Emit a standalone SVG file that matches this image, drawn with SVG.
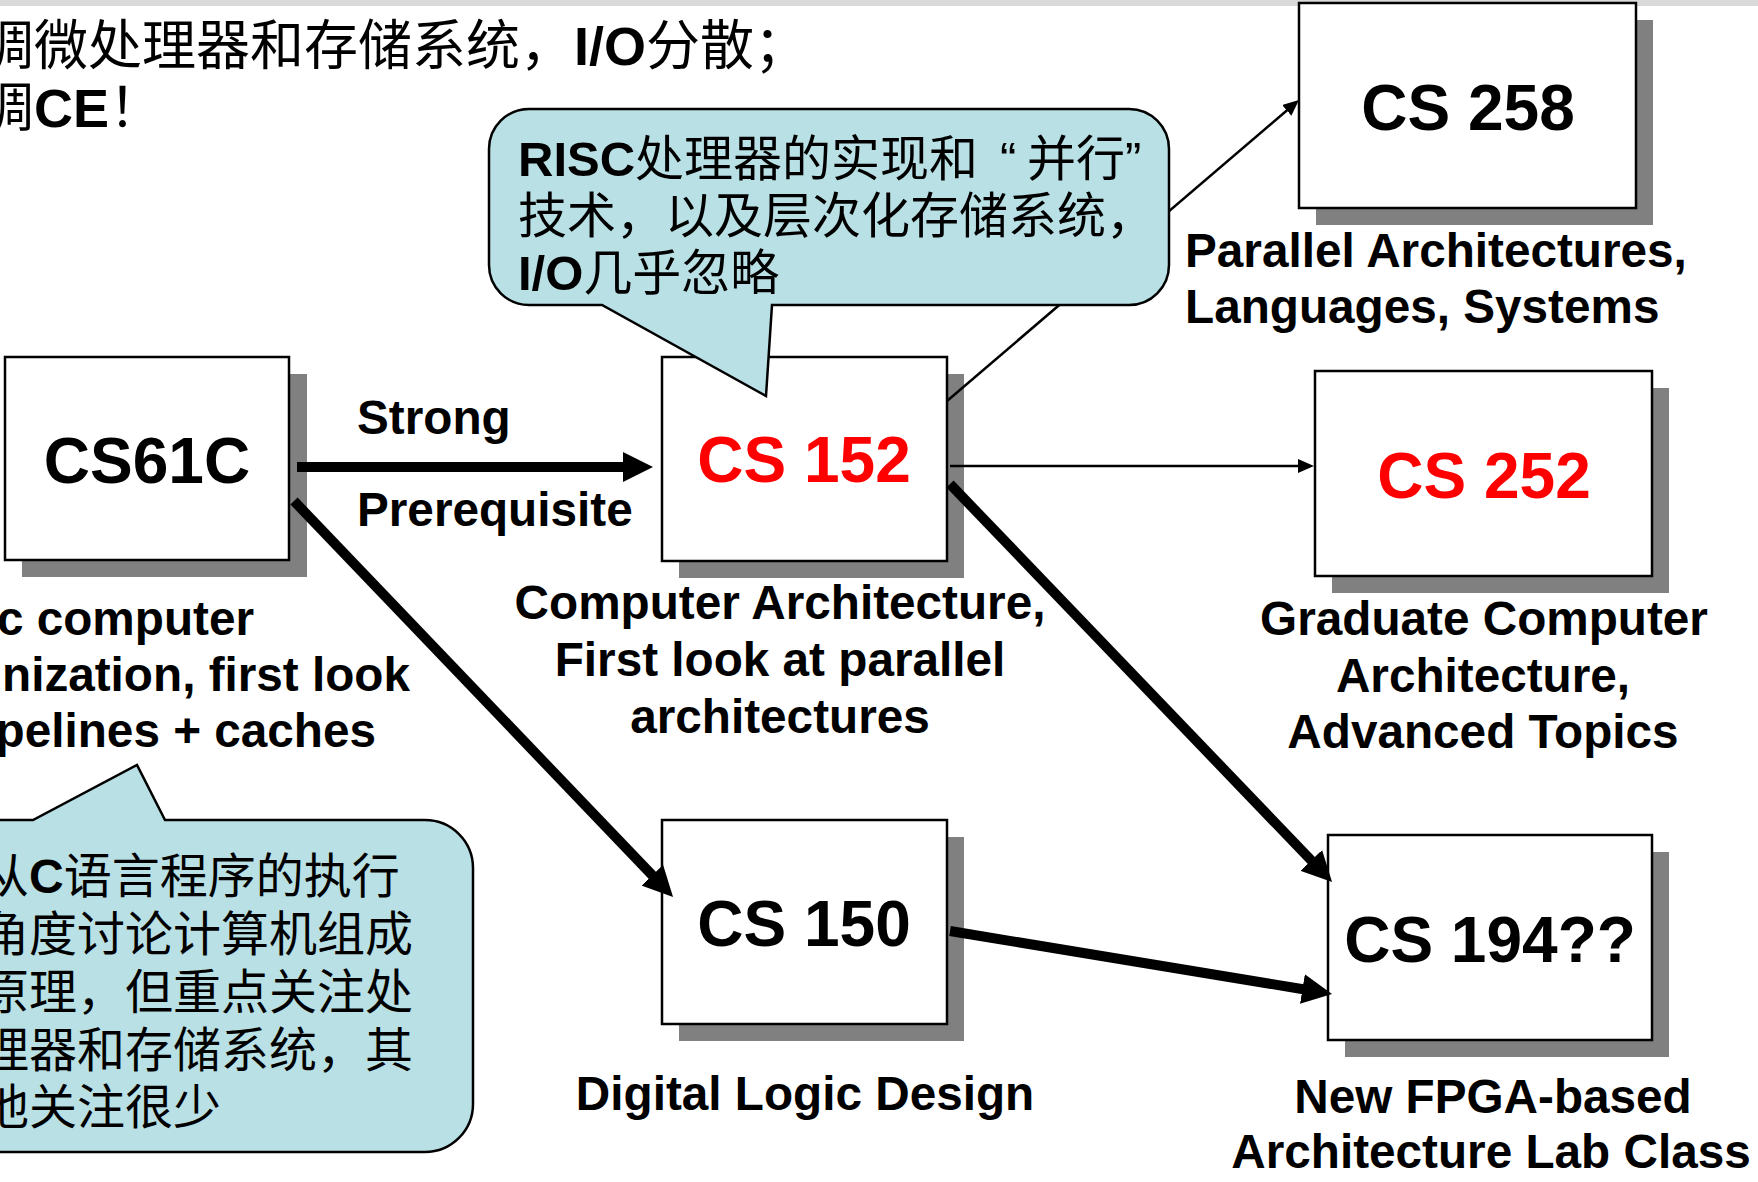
<svg xmlns="http://www.w3.org/2000/svg" width="1758" height="1182" viewBox="0 0 1758 1182">
<style>
  .shadow{fill:#808080}
  .box{fill:#ffffff;stroke:#000000;stroke-width:2.5}
  .lbl{font-family:"Liberation Sans",Arial,sans-serif;font-weight:bold;font-size:64px;text-anchor:middle;fill:#000}
  .red{fill:#ff0000}
  .desc{font-family:"Liberation Sans",Arial,sans-serif;font-weight:bold;font-size:47.7px;fill:#000}
  .mid{text-anchor:middle}
  .end{text-anchor:end}
  .cjk{font-family:"Liberation Sans","Noto Sans CJK SC",sans-serif;fill:#000}
  .b{font-weight:bold}
  .thick{stroke:#000;stroke-width:10;fill:none;marker-end:url(#ah)}
  .thin{stroke:#000;stroke-width:2.5;fill:none;marker-end:url(#ahs)}
  .callout{fill:#b9e0e4;stroke:#000;stroke-width:2.5;stroke-linejoin:miter}
</style>
<defs>
  <marker id="ah" markerUnits="userSpaceOnUse" viewBox="0 0 30 30" markerWidth="30" markerHeight="30" refX="10" refY="15" orient="auto"><path d="M0,0 L30,15 L0,30 z" fill="#000"/></marker>
  <marker id="ahs" markerUnits="userSpaceOnUse" viewBox="0 0 16 14" markerWidth="16" markerHeight="14" refX="8" refY="7" orient="auto"><path d="M0,0 L16,7 L0,14 z" fill="#000"/></marker>
</defs>
<rect x="0" y="0" width="1758" height="1182" fill="#ffffff"/>
<rect x="0" y="0" width="1758" height="6" fill="#d9d9d9"/>

<g id="title">
  <text class="cjk" font-size="54" x="-20" y="65">调微处理器和存储系统，<tspan class="b">I/O</tspan>分散；</text>
  <text class="cjk" font-size="54" x="-20" y="127">调<tspan class="b">CE</tspan>！</text>
</g>

<g id="cs61c">
  <rect class="shadow" x="22" y="374" width="285" height="203"/>
  <rect class="box" x="5" y="357" width="284" height="203"/>
  <text class="lbl" x="147" y="483">CS61C</text>
  <text class="desc end" x="254" y="635">c computer</text>
  <text class="desc end" x="410" y="691">nization, first look</text>
  <text class="desc end" x="376" y="747">pelines + caches</text>
</g>

<g id="cs152">
  <rect class="shadow" x="679" y="374" width="285" height="204"/>
  <rect class="box" x="662" y="357" width="285" height="204"/>
  <text class="lbl red" x="804" y="482">CS 152</text>
  <text class="desc mid" x="780" y="619">Computer Architecture,</text>
  <text class="desc mid" x="780" y="676">First look at parallel</text>
  <text class="desc mid" x="780" y="733">architectures</text>
</g>

<g id="cs150">
  <rect class="shadow" x="679" y="837" width="285" height="204"/>
  <rect class="box" x="662" y="820" width="285" height="204"/>
  <text class="lbl" x="804" y="946">CS 150</text>
  <text class="desc mid" x="805" y="1110">Digital Logic Design</text>
</g>

<g id="cs258">
  <rect class="shadow" x="1316" y="20" width="337" height="205"/>
  <rect class="box" x="1299" y="3" width="337" height="205"/>
  <text class="lbl" x="1468" y="130">CS 258</text>
  <text class="desc" x="1185" y="267">Parallel Architectures,</text>
  <text class="desc" x="1185" y="323">Languages, Systems</text>
</g>

<g id="cs252">
  <rect class="shadow" x="1332" y="388" width="337" height="205"/>
  <rect class="box" x="1315" y="371" width="337" height="205"/>
  <text class="lbl red" x="1484" y="498">CS 252</text>
  <text class="desc mid" x="1484" y="635">Graduate Computer</text>
  <text class="desc mid" x="1483" y="692">Architecture,</text>
  <text class="desc mid" x="1483" y="748">Advanced Topics</text>
</g>

<g id="cs194">
  <rect class="shadow" x="1345" y="852" width="324" height="205"/>
  <rect class="box" x="1328" y="835" width="324" height="205"/>
  <text class="lbl" x="1490" y="962">CS 194??</text>
  <text class="desc mid" x="1493" y="1113">New FPGA-based</text>
  <text class="desc mid" x="1491" y="1168">Architecture Lab Class</text>
</g>

<g id="connectors">
  <path class="thick" d="M297,467 L633,467"/>
  <path class="thick" d="M294,501 L659.2,882.5"/>
  <path class="thin" d="M950,466 L1306,466"/>
  <path class="thin" d="M947,401 L1292.9,105.2"/>
  <path class="thick" d="M950,484 L1318.2,867.6"/>
  <path class="thick" d="M950,931 L1312.3,990.7"/>
  <text class="desc" x="357" y="434">Strong</text>
  <text class="desc" x="357" y="526">Prerequisite</text>
</g>

<g id="callout-risc">
  <path class="callout" d="M529,109 H1129 A40,40 0 0 1 1169,149 V265 A40,40 0 0 1 1129,305 H772 L766,396 L602,305 H529 A40,40 0 0 1 489,265 V149 A40,40 0 0 1 529,109 Z"/>
  <text class="cjk" font-size="49" x="518" y="176"><tspan class="b">RISC</tspan>处理器的实现和<tspan x="1000">“</tspan><tspan x="1027">并行</tspan><tspan x="1125">”</tspan></text>
  <text class="cjk" font-size="49" x="518" y="233">技术，以及层次化存储系统，</text>
  <text class="cjk" font-size="49" x="518" y="290"><tspan class="b">I/O</tspan>几乎忽略</text>
</g>

<g id="callout-c">
  <path class="callout" d="M-60,820 H33 L137,765 L165,820 H425 A48,48 0 0 1 473,868 V1104 A48,48 0 0 1 425,1152 H-60 Z"/>
  <text class="cjk" font-size="48" x="-19" y="893">从<tspan class="b">C</tspan>语言程序的执行</text>
  <text class="cjk" font-size="48" x="-19" y="951">角度讨论计算机组成</text>
  <text class="cjk" font-size="48" x="-19" y="1009">原理，但重点关注处</text>
  <text class="cjk" font-size="48" x="-19" y="1067">理器和存储系统，其</text>
  <text class="cjk" font-size="48" x="-19" y="1124">他关注很少</text>
</g>
</svg>
